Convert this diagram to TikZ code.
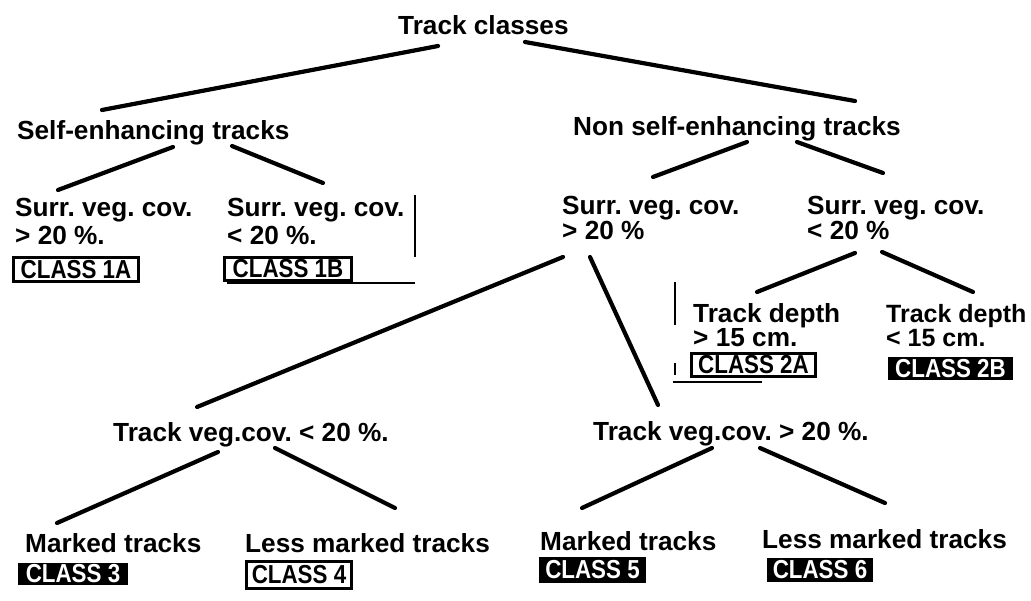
\documentclass[tikz,border=0pt]{standalone}
\usepackage{fontspec}
\setmainfont{Liberation Sans}
\newfontfamily\boxfont[FakeStretch=0.86]{Liberation Sans}
\frenchspacing
\begin{document}
\begin{tikzpicture}[x=1pt,y=-1pt,
  txt/.style={anchor=base west,inner sep=0pt,font=\bfseries\fontsize{26.2}{28}\selectfont},
  txtr/.style={txt,font=\bfseries\fontsize{25}{28}\selectfont},
  cbox/.style={draw,line width=3pt,inner sep=0pt,font=\boxfont\bfseries\fontsize{26}{26}\selectfont},
  cinv/.style={cbox,fill=black,text=white},
  conn/.style={line width=4.2pt,line cap=round},
  stray/.style={line width=1.8pt}]
\useasboundingbox (0,0) rectangle (1031,601);
% texts
\node[txt] (root) at (398,35) {Track classes};
\node[txt] (self) at (17,140) {Self-enhancing tracks};
\node[txt] (non) at (573,136) {Non self-enhancing tracks};
\node[txt] (s1) at (15,217) {Surr. veg. cov.};
\node[txt] (s1b) at (15,245) {> 20 \%.};
\node[txt] (s2) at (227,217) {Surr. veg. cov.};
\node[txt] (s2b) at (227,245) {< 20 \%.};
\node[txt] (s3) at (562,215) {Surr. veg. cov.};
\node[txt] (s3b) at (562,240) {> 20 \%};
\node[txt] (s4) at (807,215) {Surr. veg. cov.};
\node[txt] (s4b) at (807,240) {< 20 \%};
\node[txt] (d1) at (693,323) {Track depth};
\node[txt] (d1b) at (693,347) {> 15 cm.};
\node[txtr] (d2) at (886,323) {Track depth};
\node[txtr] (d2b) at (886,347) {< 15 cm.};
\node[txt] (t1) at (113,442) {Track veg.cov. < 20 \%.};
\node[txt] (t2) at (593,440) {Track veg.cov. > 20 \%.};
\node[txt] (m1) at (25,552) {Marked tracks};
\node[txt] (l1) at (245,552) {Less marked tracks};
\node[txt] (m2) at (540,550) {Marked tracks};
\node[txt] (l2) at (762,548) {Less marked tracks};
% class boxes
\node[cbox,minimum width=125pt,minimum height=24pt] (c1a) at (76,269.5) {CLASS 1A};
\node[cbox,minimum width=127pt,minimum height=23pt] (c1b) at (288,269) {CLASS 1B};
\node[cbox,minimum width=124pt,minimum height=23pt] (c2a) at (753.5,365) {CLASS 2A};
\node[cinv,minimum width=122pt,minimum height=20pt] (c2b) at (950.5,368.5) {CLASS 2B};
\node[cinv,minimum width=107pt,minimum height=19pt] (c3) at (73,574) {CLASS 3};
\node[cbox,minimum width=105pt,minimum height=27pt] (c4) at (299,575) {CLASS 4};
\node[cinv,minimum width=104pt,minimum height=23pt] (c5) at (592.5,570) {CLASS 5};
\node[cinv,minimum width=103pt,minimum height=21pt] (c6) at (820,570) {CLASS 6};
% connector end points
\coordinate (rootL) at (438,46);  \coordinate (selfT) at (102,110);
\coordinate (rootR) at (525,42);  \coordinate (nonT) at (855,101);
\coordinate (selfL) at (173,147); \coordinate (s1T) at (58,190);
\coordinate (selfR) at (232,146); \coordinate (s2T) at (323,183);
\coordinate (nonL) at (747,142);  \coordinate (s3T) at (653,177);
\coordinate (nonR) at (797,142);  \coordinate (s4T) at (883,173);
\coordinate (s3L) at (563,257);   \coordinate (t1T) at (197,407);
\coordinate (s3R) at (590,257);   \coordinate (t2T) at (658,405);
\coordinate (s4L) at (855,253);   \coordinate (d1T) at (757,292);
\coordinate (s4R) at (882,252);   \coordinate (d2T) at (973,292);
\coordinate (t1L) at (218,452);   \coordinate (m1T) at (57,523);
\coordinate (t1R) at (275,448);   \coordinate (l1T) at (395,508);
\coordinate (t2L) at (712,448);   \coordinate (m2T) at (582,508);
\coordinate (t2R) at (760,448);   \coordinate (l2T) at (885,503);
\draw[conn] (rootL) -- (selfT);
\draw[conn] (rootR) -- (nonT);
\draw[conn] (selfL) -- (s1T);
\draw[conn] (selfR) -- (s2T);
\draw[conn] (nonL) -- (s3T);
\draw[conn] (nonR) -- (s4T);
\draw[conn] (s3L) -- (t1T);
\draw[conn] (s3R) -- (t2T);
\draw[conn] (s4L) -- (d1T);
\draw[conn] (s4R) -- (d2T);
\draw[conn] (t1L) -- (m1T);
\draw[conn] (t1R) -- (l1T);
\draw[conn] (t2L) -- (m2T);
\draw[conn] (t2R) -- (l2T);
% stray marks
\coordinate (v1a) at (415,195); \coordinate (v1b) at (415,257);
\coordinate (h1a) at (227,283); \coordinate (h1b) at (415,283);
\coordinate (v2a) at (675,282); \coordinate (v2b) at (675,325);
\coordinate (v3a) at (675,363); \coordinate (v3b) at (675,375);
\coordinate (h2a) at (673,382); \coordinate (h2b) at (762,382);
\draw[stray] (v1a) -- (v1b);
\draw[stray] (h1a) -- (h1b);
\draw[stray] (v2a) -- (v2b);
\draw[stray] (v3a) -- (v3b);
\draw[stray] (h2a) -- (h2b);
\end{tikzpicture}
\end{document}
